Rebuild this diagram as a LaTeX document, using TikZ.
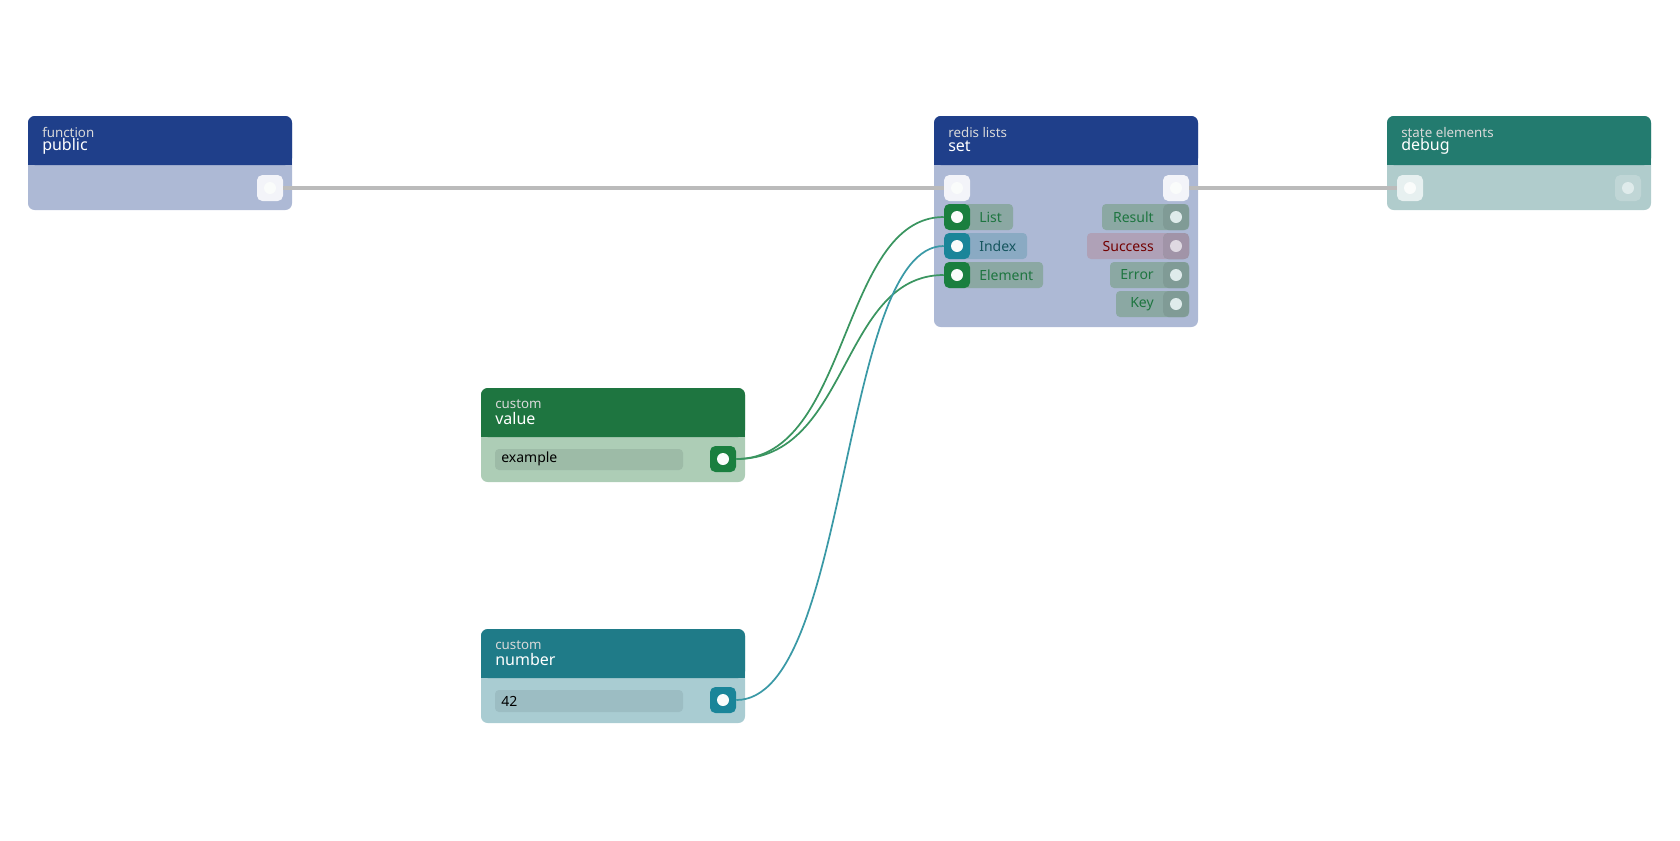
\documentclass[tikz,border=0pt]{standalone}
\usepackage{fontspec}
\setmainfont{Noto Sans}
\usetikzlibrary{calc}
\definecolor{hblue}{HTML}{1F3F8A}
\definecolor{bblue}{HTML}{ADB9D5}
\definecolor{hgreen}{HTML}{1E7540}
\definecolor{bgreen}{HTML}{ADCDB6}
\definecolor{hteal}{HTML}{1F7B88}
\definecolor{bteal}{HTML}{A9CCD2}
\definecolor{hdebug}{HTML}{237B6F}
\definecolor{bdebug}{HTML}{B0CCCC}
\definecolor{pgreen}{HTML}{1A7F3F}
\definecolor{pteal}{HTML}{1A8599}
\definecolor{wire}{HTML}{BBBBBB}
\definecolor{wgreen}{HTML}{3A9560}
\definecolor{wteal}{HTML}{3A99A6}
\definecolor{pillg}{HTML}{8BA8A3}
\definecolor{pillt}{HTML}{8AAAC3}
\definecolor{pillr}{HTML}{AFA1B7}
\definecolor{fieldg}{HTML}{9DBBA7}
\definecolor{fieldt}{HTML}{9CBDC3}
\begin{document}
\begin{tikzpicture}[x=0.75pt,y=-0.75pt,
        kind/.style={anchor=west, font=\fontsize{10}{10}\selectfont, text=white!85!black, inner sep=0},
        title/.style={anchor=west, font=\fontsize{12}{12}\selectfont, text=white, inner sep=0},
        pill/.style={rounded corners=3pt, inner sep=0, font=\fontsize{10.5}{10.5}\selectfont},
    ]
    % ports
    \tikzstyle{port}=[rounded corners=4pt, minimum size=19.5pt, inner sep=0]
    \tikzstyle{dot}=[circle, fill=white!94!bgreen, minimum size=9pt, inner sep=0]
    \useasboundingbox (0,0) rectangle (1680,840);
    % node boxes
    \newcommand{\block}[6]{%
        \fill[#5, rounded corners=5pt] (#1,#2) rectangle (#1+264,#4);
        \fill[#6, rounded corners=5pt] (#1,#2) rectangle (#1+264,#2+49);
        \fill[#6] (#1,#2+30) rectangle (#1+264,#2+49);
        \node[kind] at (#1+14,#2+18) {\vphantom{g}#3};
    }
    \block{28}{116}{function}{210}{bblue}{hblue}
    \node[title] at (42,146) {public};
    \block{934}{116}{redis lists}{327}{bblue}{hblue}
    \node[title] at (948,146) {set};
    \block{1387}{116}{state elements}{210}{bdebug}{hdebug}
    \node[title] at (1401,146) {debug};
    \block{481}{388}{custom}{482}{bgreen}{hgreen}
    \node[title] at (495,418) {value};
    \block{481}{629}{custom}{723}{bteal}{hteal}
    \node[title] at (495,659) {number};
    % text fields
    \fill[pill, fill=fieldg] (495,449) rectangle (683,470);
    \node[anchor=west, pill] (valtxt) at (501,459) {example};
    \fill[pill, fill=fieldt] (495,690) rectangle (683,712);
    \node[anchor=west, pill] (numtxt) at (501,701) {42};
    % label pills of set
    \fill[pill, fill=pillg] (945,204) rectangle (1013,230);
    \node[anchor=west, pill, text=hgreen] at (979,217) {List};
    \fill[pill, fill=pillt] (945,233) rectangle (1027,259);
    \node[anchor=west, pill, text=hteal!70!black] at (979,246) {Index};
    \fill[pill, fill=pillg] (945,262) rectangle (1043,288);
    \node[anchor=west, pill, text=hgreen] at (979,275) {Element};
    \fill[pill, fill=pillg] (1102,204) rectangle (1189,230);
    \node[anchor=east, pill, text=hgreen] at (1154,217) {Result};
    \fill[pill, fill=pillr] (1087,233) rectangle (1189,259);
    \node[anchor=east, pill, text=red!45!black] at (1154,246) {Success};
    \fill[pill, fill=pillg] (1110,262) rectangle (1189,288);
    \node[anchor=east, pill, text=hgreen] at (1154,275) {Error};
    \fill[pill, fill=pillg] (1116,291) rectangle (1189,317);
    \node[anchor=east, pill, text=hgreen] at (1154,304) {Key};
    % port nodes
    \node[port, fill=white!85!bblue] (pubout) at (270,188) {};
    \node[port, fill=white!85!bblue] (setin) at (957,188) {};
    \node[port, fill=white!85!bblue] (setout) at (1176,188) {};
    \node[port, fill=white!70!bdebug] (dbgin) at (1410,188) {};
    \node[port, fill=white!20!bdebug] (dbgout) at (1628,188) {};
    \node[port, fill=pgreen] (list) at (957,217) {};
    \node[port, fill=pteal] (index) at (957,246) {};
    \node[port, fill=pgreen] (elem) at (957,275) {};
    \foreach \n/\y in {result/217, success/246, error/275, key/304}
        \node[port, fill=black!8!pillg] (\n) at (1176,\y) {};
    \fill[black!8!pillr, rounded corners=4pt] ($(success)+(-13,-13)$) rectangle ($(success)+(13,13)$);
    \node[port, fill=pgreen] (valout) at (723,459) {};
    \node[port, fill=pteal] (numout) at (723,700) {};
    \foreach \n in {pubout, setin, setout, dbgin, list, index, elem, valout, numout}
        \node[dot] at (\n) {};
    \foreach \n in {dbgout, result, error, key}
        \node[dot, fill=white!60!bdebug] at (\n) {};
    \node[dot, fill=white!60!pillr] at (success) {};
    % wires
    \draw[wire, line width=3.5pt] (pubout.east) -- (setin.west);
    \draw[wire, line width=3.5pt] (setout.east) -- (dbgin.west);
    \draw[wgreen, line width=1.3pt] (valout.east) .. controls (850,459) and (840,217) .. (list.west);
    \draw[wgreen, line width=1.3pt] (valout.east) .. controls (850,459) and (840,275) .. (elem.west);
    \draw[wteal, line width=1.3pt] (numout.east) .. controls (850,700) and (840,246) .. (index.west);
\end{tikzpicture}
\end{document}
